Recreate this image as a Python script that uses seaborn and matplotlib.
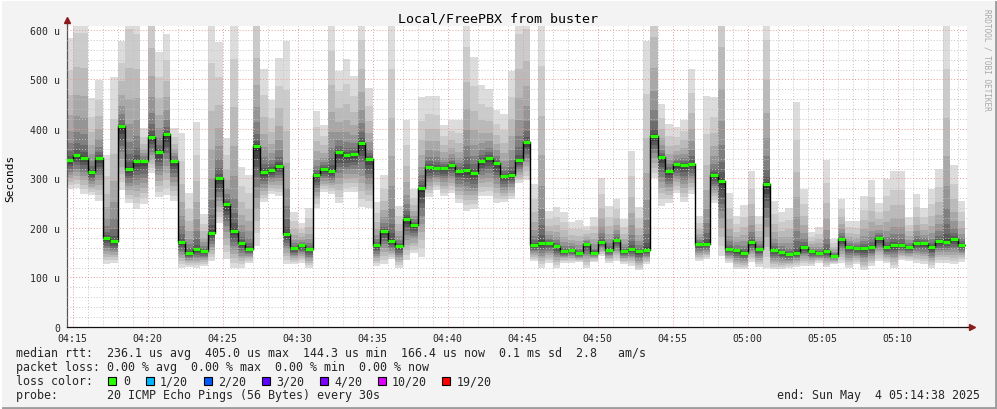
import matplotlib
matplotlib.use('Agg')
import matplotlib.pyplot as plt
import seaborn as sns
import numpy as np
import pandas as pd
from matplotlib.patches import Rectangle
from matplotlib.lines import Line2D
from matplotlib.ticker import MultipleLocator, FixedLocator

# median rtt per 30s step (microseconds), first step starts 04:14:30
median = [336.5, 346.6, 342, 313.5, 341, 180, 173, 405, 320, 336,
          335, 384, 353, 389, 335, 172, 150, 157, 153, 190,
          300, 249, 194, 170, 158, 365, 313, 318, 326, 188,
          159, 165, 157.5, 307, 320, 315.5, 354, 346.6, 350, 372,
          340, 165, 194, 173, 164, 219, 207, 280, 324, 322,
          321.6, 328, 316, 318, 311, 336, 342, 331, 305, 308,
          336.5, 373, 166, 170, 170, 163.5, 152.7, 156, 148.7, 167.5,
          150, 172, 156, 176, 152.7, 158, 153, 156, 386.5, 343,
          315.5, 329, 328, 330, 167, 167.5, 307, 295, 157, 155,
          150, 171, 157.5, 289, 156, 151, 146.6, 150, 162, 153,
          150, 152.7, 144.3, 178, 162, 159, 159, 162, 180, 161,
          166, 165.5, 161.5, 170, 169.5, 161, 173, 172.5, 178, 166.4]

# lowest ping per step
ping_lo = [279, 280, 269, 266, 255, 128, 130, 276, 250, 239,
           249, 311, 262, 266, 254, 120, 122, 120, 124, 134,
           210, 137, 120, 120, 130, 164, 252, 269, 264, 128,
           127, 130, 120, 241, 272, 269, 250, 272, 272, 242,
           241, 124, 127, 137, 119, 135, 149, 141, 262, 276,
           264, 270, 250, 235, 239, 264, 264, 250, 252, 259,
           290, 296, 134, 120, 130, 120, 130, 130, 132, 119,
           132, 144, 130, 134, 128, 124, 115, 127, 300, 245,
           250, 270, 252, 268, 134, 137, 250, 144, 130, 117,
           117, 132, 122, 120, 117, 117, 120, 122, 124, 124,
           130, 122, 127, 130, 120, 127, 115, 124, 134, 130,
           119, 135, 134, 130, 127, 120, 130, 130, 127, 132]

# highest ping per step
ping_hi = [583, 680, 680, 462, 499, 347, 504, 578, 700, 680,
           401, 720, 556, 592, 401, 391, 270, 414, 228, 650,
           576, 381, 660, 324, 308, 700, 522, 458, 543, 578,
           232, 210, 241, 437, 408, 640, 518, 541, 507, 650,
           482, 252, 308, 640, 245, 418, 279, 464, 466, 466,
           408, 419, 419, 650, 546, 489, 480, 438, 431, 518,
           680, 680, 289, 650, 234, 243, 232, 212, 216, 205,
           223, 301, 245, 259, 218, 355, 242, 578, 760, 450,
           410, 403, 419, 522, 225, 466, 464, 800, 270, 225,
           247, 316, 225, 680, 254, 232, 241, 455, 279, 191,
           201, 337, 178, 259, 215, 214, 264, 296, 250, 299,
           315, 316, 222, 268, 241, 279, 320, 640, 328, 255]

tick_labels = ['04:15', '04:20', '04:25', '04:30', '04:35', '04:40',
               '04:45', '04:50', '04:55', '05:00', '05:05', '05:10']
y_labels = ['0', '100 u', '200 u', '300 u', '400 u', '500 u', '600 u']
loss_labels = ['0', '1/20', '2/20', '3/20', '4/20', '10/20', '19/20']
loss_colors = ['#26ff00', '#00b8ff', '#0059ff', '#5e00ff', '#7e00ff', '#dd00ff', '#ff0000']
smoke_grays = ['#2e2e2e', '#444444', '#585858', '#6c6c6c', '#808080',
               '#959595', '#a8a8a8', '#bababa', '#cbcbcb', '#dcdcdc']

sns.set_style('white')
plt.rcParams['font.family'] = ['DejaVu Sans Mono']

W, H = 997, 410
fig = plt.figure(figsize=(W / 100, H / 100), dpi=100, facecolor='#f3f3f3')
ax = fig.add_axes([67 / W, 82 / H, 900 / W, 301 / H])
ax.set_facecolor('white')

t = np.arange(len(median)) * 0.5 - 0.5   # minutes after 04:15
med = np.array(median)
lo = np.array(ping_lo)
hi = np.array(ping_hi)

# smoke: outer (light) bands first, inner dark ones on top
for j in range(10, 0, -1):
    b = med - (med - lo) * (j / 10) ** 1.3
    top = med + (hi - med) * (j / 10) ** 2.8
    ax.bar(t, top - b, bottom=b, width=0.5, align='edge',
           color=smoke_grays[j - 1], linewidth=0, zorder=1)

# median line
df = pd.DataFrame({'t': np.append(t, t[-1] + 0.5), 'rtt': np.append(med, med[-1])})
sns.lineplot(data=df, x='t', y='rtt', ax=ax, estimator=None, color='black',
             linewidth=1, drawstyle='steps-post', zorder=4)
ax.hlines(med, t, t + 0.5, color=loss_colors[0], linewidth=2.3, zorder=5)

ax.set_xlim(-22 / 60, 59 + 38 / 60)
ax.set_ylim(0, 608)
ax.xaxis.set_major_locator(FixedLocator(np.arange(0, 60, 5)))
ax.set_xticklabels(tick_labels)
ax.xaxis.set_minor_locator(MultipleLocator(1))
ax.yaxis.set_major_locator(FixedLocator(np.arange(0, 700, 100)))
ax.set_yticklabels(y_labels)
ax.yaxis.set_minor_locator(MultipleLocator(20))
ax.set_xlabel('')
ax.set_ylabel('')

ax.set_axisbelow(False)
ax.grid(which='major', color='#e89a9a', linestyle=(0, (1, 2)), linewidth=0.7, zorder=3)
ax.grid(which='minor', color='#c4c4c4', linestyle=(0, (1, 2)), linewidth=0.7, zorder=3)
ax.tick_params(axis='both', which='major', labelsize=7.1, length=3, width=0.7,
               color='#444444', pad=2)
ax.tick_params(axis='both', which='minor', length=0)
ax.tick_params(axis='x', pad=1)
for s in ['top', 'right']:
    ax.spines[s].set_visible(False)
ax.spines['left'].set_color('#555555')
ax.spines['left'].set_linewidth(0.9)
ax.spines['bottom'].set_color('#111111')
ax.spines['bottom'].set_linewidth(0.9)

# axis extensions with arrow heads
ax.add_line(Line2D([0, 0], [1, 1.02], transform=ax.transAxes, color='#555555',
                   linewidth=0.9, clip_on=False))
ax.plot([0], [1.02], marker='^', markersize=4, color='#8b1a1a',
        transform=ax.transAxes, clip_on=False)
ax.add_line(Line2D([1, 1.006], [0, 0], transform=ax.transAxes, color='#111111',
                   linewidth=0.9, clip_on=False))
ax.plot([1.006], [0], marker='>', markersize=4, color='#8b1a1a',
        transform=ax.transAxes, clip_on=False)

def fx(px):
    return px / W

def fy(py):
    return 1 - py / H

fig.text(fx(498), fy(19), 'Local/FreePBX from buster', ha='center', va='center',
         fontsize=9.6, color='black')
fig.text(fx(10), fy(178), 'Seconds', rotation=90, ha='center', va='center',
         fontsize=8, color='black')
fig.text(fx(987), fy(60), 'RRDTOOL / TOBI OETIKER', rotation=270, ha='center',
         va='center', fontsize=5.6, color='#a8a8a8')

leg = 8.4
fig.text(fx(16), fy(354), 'median rtt:  236.1 us avg  405.0 us max  144.3 us min  166.4 us now  0.1 ms sd  2.8   am/s',
         ha='left', va='center', fontsize=leg)
fig.text(fx(16), fy(368), 'packet loss: 0.00 % avg  0.00 % max  0.00 % min  0.00 % now',
         ha='left', va='center', fontsize=leg)
fig.text(fx(16), fy(382), 'loss color:', ha='left', va='center', fontsize=leg)
box_x = [108, 145.5, 203.5, 262, 320, 377.5, 442]
lab_x = [123, 160, 218, 276, 334, 392, 457]
for bx, lx, lab, col in zip(box_x, lab_x, loss_labels, loss_colors):
    fig.add_artist(Rectangle((fx(bx), fy(386)), 8 / W, 8 / H, transform=fig.transFigure,
                             facecolor=col, edgecolor='black', linewidth=0.8))
    fig.text(fx(lx), fy(382), lab, ha='left', va='center', fontsize=leg)
fig.text(fx(16), fy(396), 'probe:       20 ICMP Echo Pings (56 Bytes) every 30s',
         ha='left', va='center', fontsize=leg)
fig.text(fx(980), fy(396), 'end: Sun May  4 05:14:38 2025', ha='right', va='center',
         fontsize=leg)

# 3d frame of the rrd image
fig.add_artist(Line2D([0, 1], [fy(409), fy(409)], transform=fig.transFigure,
                      color='#9c9c9c', linewidth=2))
fig.add_artist(Line2D([fx(996), fx(996)], [0, 1], transform=fig.transFigure,
                      color='#9c9c9c', linewidth=2))
fig.add_artist(Line2D([0, 1], [fy(0.5), fy(0.5)], transform=fig.transFigure,
                      color='#ffffff', linewidth=1.5))
fig.add_artist(Line2D([fx(0.5), fx(0.5)], [0, 1], transform=fig.transFigure,
                      color='#ffffff', linewidth=1.5))

fig.savefig('out.png', dpi=100, facecolor=fig.get_facecolor())
